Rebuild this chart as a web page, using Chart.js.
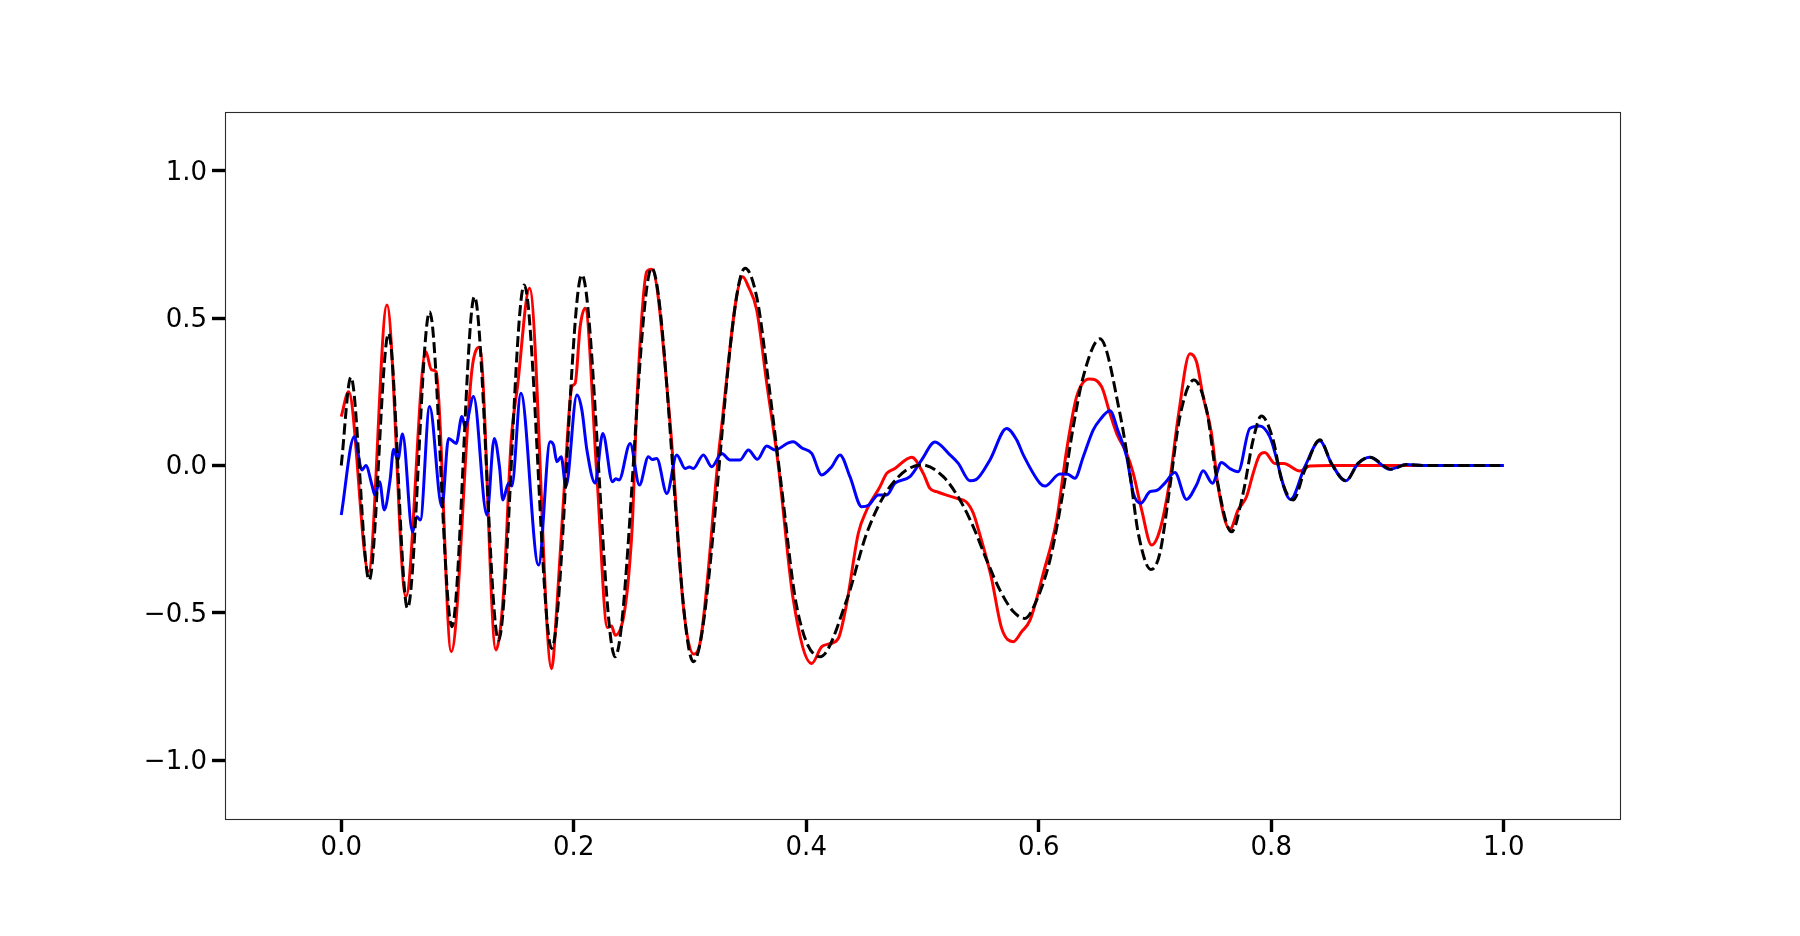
<!DOCTYPE html>
<html>
<head>
<meta charset="utf-8">
<script src="https://cdn.jsdelivr.net/npm/chart.js@4.4.1/dist/chart.umd.min.js"></script>
<style>
  html, body { margin: 0; padding: 0; background: #ffffff; }
  #wrap { width: 1800px; height: 936px; }
</style>
</head>
<body>
<div id="wrap"><canvas id="c" width="1800" height="936"></canvas></div>
<script>
// ---- data ----
const xTicks = [0.0, 0.2, 0.4, 0.6, 0.8, 1.0];
const yTicks = [-1.0, -0.5, 0.0, 0.5, 1.0];

// black dashed (true signal)
const trueX = [0, 0.0083, 0.024, 0.0407, 0.057, 0.076, 0.0952, 0.1146, 0.1353, 0.1574, 0.181, 0.207, 0.2356, 0.2671, 0.3029, 0.3474, 0.358, 0.367, 0.378, 0.3918, 0.4119, 0.4348, 0.452, 0.472, 0.4993, 0.5179, 0.5322, 0.5437, 0.5552, 0.5666, 0.5781, 0.5881, 0.5982, 0.6096, 0.6197, 0.6297, 0.6383, 0.6526, 0.6698, 0.6784, 0.6856, 0.6965, 0.7042, 0.7128, 0.7214, 0.7334, 0.7444, 0.7529, 0.7659, 0.7758, 0.7844, 0.7915, 0.8016, 0.8089, 0.8188, 0.8289, 0.8418, 0.8518, 0.8641, 0.8747, 0.8848, 0.9034, 0.9163, 0.93, 1.0];
const trueY = [0, 0.30, -0.389, 0.449, -0.485, 0.522, -0.547, 0.573, -0.593, 0.613, -0.621, 0.647, -0.649, 0.67, -0.666, 0.67, 0.56, 0.30, -0.05, -0.479, -0.649, -0.457, -0.23, -0.072, 0.002, -0.038, -0.117, -0.208, -0.321, -0.423, -0.496, -0.519, -0.457, -0.321, -0.117, 0.132, 0.302, 0.43, 0.177, -0.027, -0.23, -0.353, -0.298, -0.072, 0.166, 0.29, 0.188, -0.038, -0.225, -0.094, 0.087, 0.168, 0.087, -0.049, -0.117, -0.015, 0.087, 0.007, -0.052, 0.007, 0.028, -0.013, 0.003, 0.0, 0.0];

// red (reconstruction)
const reconX = [0, 0.0063, 0.0235, 0.0393, 0.0556, 0.0728, 0.0775, 0.0817, 0.0946, 0.1124, 0.119, 0.133, 0.1396, 0.1462, 0.1516, 0.162, 0.181, 0.1855, 0.1926, 0.1984, 0.2012, 0.2055, 0.2098, 0.2198, 0.229, 0.2325, 0.2356, 0.2499, 0.2548, 0.2628, 0.2671, 0.2829, 0.2943, 0.3029, 0.3072, 0.3259, 0.3454, 0.3502, 0.3574, 0.366, 0.376, 0.3889, 0.4047, 0.4133, 0.4205, 0.4276, 0.4348, 0.4448, 0.452, 0.4634, 0.4692, 0.4763, 0.4907, 0.5007, 0.5064, 0.5122, 0.5289, 0.5375, 0.5437, 0.549, 0.5591, 0.5681, 0.5781, 0.5853, 0.5925, 0.6039, 0.6154, 0.624, 0.6326, 0.6434, 0.654, 0.6612, 0.667, 0.6756, 0.6813, 0.6885, 0.6971, 0.7042, 0.7128, 0.72, 0.73, 0.7357, 0.7414, 0.7486, 0.7543, 0.7644, 0.7715, 0.7787, 0.7844, 0.7901, 0.7945, 0.8031, 0.8108, 0.8246, 0.8332, 0.85, 1.0];
const reconY = [0.166, 0.25, -0.36, 0.545, -0.445, 0.386, 0.325, 0.318, -0.632, 0.324, 0.401, -0.626, -0.434, 0.087, 0.268, 0.602, -0.69, -0.479, -0.027, 0.268, 0.279, 0.471, 0.534, -0.027, -0.55, -0.545, -0.576, -0.235, 0.256, 0.658, 0.666, 0.143, -0.479, -0.64, -0.625, 0.087, 0.641, 0.607, 0.528, 0.28, 0.0, -0.457, -0.672, -0.615, -0.605, -0.587, -0.468, -0.23, -0.151, -0.072, -0.027, -0.01, 0.028, -0.027, -0.078, -0.089, -0.111, -0.123, -0.162, -0.23, -0.378, -0.553, -0.598, -0.564, -0.525, -0.366, -0.185, 0.053, 0.234, 0.294, 0.268, 0.177, 0.109, 0.041, -0.027, -0.151, -0.27, -0.219, -0.049, 0.166, 0.379, 0.352, 0.234, 0.109, -0.072, -0.217, -0.151, -0.106, -0.027, 0.036, 0.044, 0.007, 0.007, -0.019, -0.002, 0.0, 0.0];

// blue (residual)
const residX = [0, 0.0112, 0.0178, 0.0212, 0.0264, 0.029, 0.033, 0.037, 0.042, 0.045, 0.0487, 0.0527, 0.0613, 0.065, 0.068, 0.076, 0.0866, 0.0923, 0.0989, 0.1038, 0.1066, 0.1138, 0.1253, 0.1316, 0.1361, 0.139, 0.1439, 0.1467, 0.1545, 0.1697, 0.1797, 0.1826, 0.1855, 0.1892, 0.1932, 0.2027, 0.207, 0.2113, 0.2184, 0.225, 0.2333, 0.2362, 0.239, 0.2485, 0.2565, 0.2642, 0.2675, 0.2714, 0.2801, 0.2886, 0.2958, 0.2995, 0.3029, 0.3115, 0.3187, 0.3273, 0.3345, 0.3431, 0.3502, 0.358, 0.366, 0.3732, 0.3846, 0.3889, 0.396, 0.4047, 0.4133, 0.4219, 0.429, 0.4376, 0.4477, 0.4535, 0.462, 0.4692, 0.4763, 0.4892, 0.4993, 0.5107, 0.5236, 0.5308, 0.5408, 0.546, 0.558, 0.5724, 0.581, 0.5867, 0.601, 0.6053, 0.6182, 0.625, 0.6311, 0.6383, 0.6469, 0.6526, 0.6612, 0.6684, 0.6756, 0.6813, 0.6877, 0.6957, 0.7014, 0.7085, 0.7171, 0.7271, 0.7357, 0.7414, 0.7494, 0.7572, 0.7643, 0.7715, 0.7816, 0.7901, 0.7987, 0.8166, 0.8289, 0.8418, 0.8518, 0.8641, 0.8747, 0.8848, 0.902, 0.9163, 0.93, 1.0];
const residY = [-0.168, 0.098, -0.015, 0.0, -0.066, -0.10, -0.055, -0.151, -0.049, 0.055, 0.019, 0.107, -0.225, -0.174, -0.185, 0.2, -0.14, 0.092, 0.075, 0.166, 0.132, 0.234, -0.168, 0.092, -0.004, -0.117, -0.06, -0.07, 0.245, -0.338, 0.081, 0.07, 0.013, 0.03, -0.072, 0.239, 0.188, 0.053, -0.06, 0.109, -0.055, -0.045, -0.049, 0.075, -0.066, 0.03, 0.02, 0.024, -0.095, 0.036, -0.01, -0.005, -0.01, 0.036, -0.004, 0.041, 0.019, 0.019, 0.053, 0.021, 0.066, 0.053, 0.077, 0.081, 0.06, 0.041, -0.032, -0.004, 0.036, -0.038, -0.14, -0.135, -0.1, -0.1, -0.06, -0.038, 0.019, 0.08, 0.036, 0.007, -0.052, -0.048, 0.019, 0.126, 0.087, 0.036, -0.06, -0.07, -0.029, -0.03, -0.043, 0.03, 0.121, 0.155, 0.186, 0.115, 0.03, -0.094, -0.128, -0.089, -0.085, -0.06, -0.024, -0.115, -0.066, -0.018, -0.06, 0.01, -0.01, -0.021, 0.126, 0.134, 0.098, -0.115, -0.004, 0.084, 0.007, -0.052, 0.007, 0.028, -0.013, 0.003, 0.0, 0.0];

const toPts = (xs, ys) => xs.map((x, i) => ({ x: x, y: ys[i] }));
const fmt = v => {
  const s = Number(v).toFixed(1);
  return s.startsWith('-') ? '\u2212' + s.slice(1) : s;
};

const FONT = { family: 'DejaVu Sans', size: 26 };
const LW = 3.0;

const framePlugin = {
  id: 'frame',
  afterDatasetsDraw(chart) {
    const a = chart.chartArea, ctx = chart.ctx;
    ctx.save();
    ctx.strokeStyle = '#2b2b2b';
    ctx.lineWidth = 1.1;
    ctx.strokeRect(Math.round(a.left) + 0.5, Math.round(a.top) + 0.5,
                   Math.round(a.right - a.left), Math.round(a.bottom - a.top));
    ctx.restore();
  }
};

new Chart(document.getElementById('c'), {
  type: 'line',
  data: {
    datasets: [
      {
        label: 'true',
        data: toPts(trueX, trueY),
        borderColor: '#000000',
        borderWidth: LW,
        borderDash: [11, 4.5],
        borderCapStyle: 'butt',
        pointRadius: 0,
        cubicInterpolationMode: 'monotone',
        fill: false
      },
      {
        label: 'residual',
        data: toPts(residX, residY),
        borderColor: '#0000ff',
        borderWidth: LW,
        pointRadius: 0,
        cubicInterpolationMode: 'monotone',
        fill: false
      },
      {
        label: 'reconstruction',
        data: toPts(reconX, reconY),
        borderColor: '#ff0000',
        borderWidth: LW,
        pointRadius: 0,
        cubicInterpolationMode: 'monotone',
        fill: false
      }
    ]
  },
  options: {
    responsive: false,
    animation: false,
    events: [],
    layout: { padding: { left: 0, top: 112, right: 180, bottom: 0 } },
    plugins: { legend: { display: false }, tooltip: { enabled: false }, title: { display: false } },
    scales: {
      x: {
        type: 'linear',
        min: -0.1,
        max: 1.1,
        afterBuildTicks: s => { s.ticks = xTicks.map(v => ({ value: v })); },
        afterFit: s => { s.height = 117; },
        border: { display: false },
        grid: { display: true, drawOnChartArea: false, drawTicks: true, tickLength: 13, tickWidth: 3.4, tickColor: '#000000' },
        ticks: { color: '#000000', font: FONT, padding: 1, maxRotation: 0, autoSkip: false, callback: v => fmt(v) }
      },
      y: {
        type: 'linear',
        min: -1.2,
        max: 1.2,
        afterBuildTicks: s => { s.ticks = yTicks.map(v => ({ value: v })); },
        afterFit: s => { s.width = 225; },
        border: { display: false },
        grid: { display: true, drawOnChartArea: false, drawTicks: true, tickLength: 13, tickWidth: 3.4, tickColor: '#000000' },
        ticks: { color: '#000000', font: FONT, padding: 5, labelOffset: 2, autoSkip: false, callback: v => fmt(v) }
      }
    }
  },
  plugins: [framePlugin]
});
</script>
</body>
</html>
